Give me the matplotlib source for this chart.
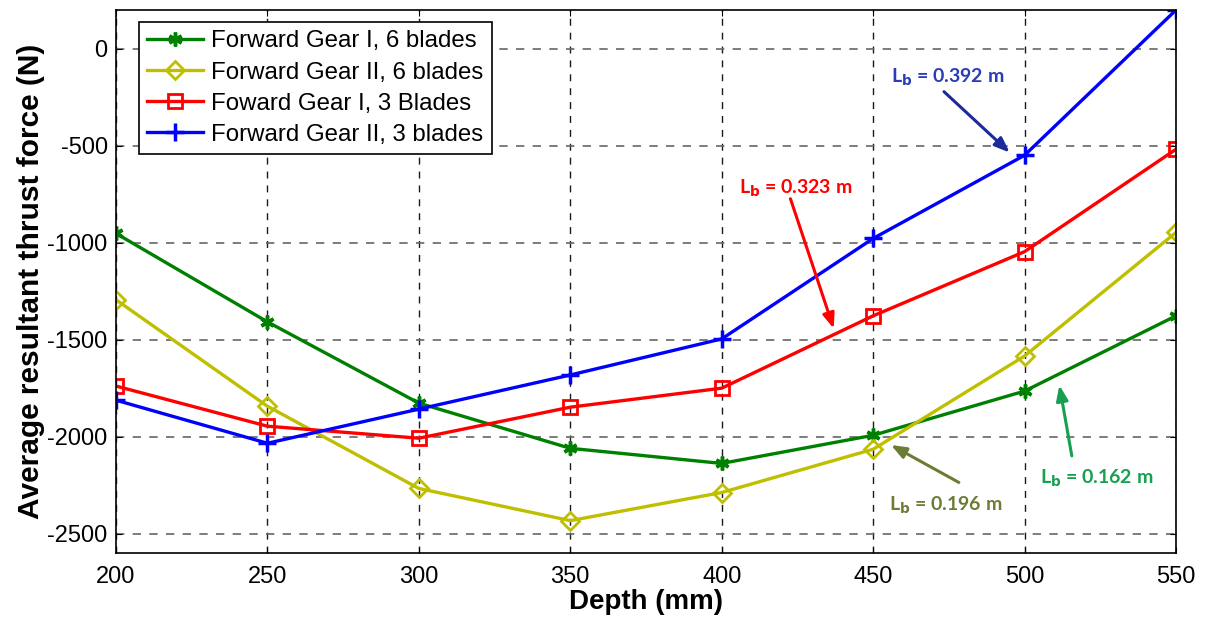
import numpy as np
import matplotlib
matplotlib.use("Agg")
import matplotlib.pyplot as plt

depth = [200, 250, 300, 350, 400, 450, 500, 550]

gear1_6 = [-952, -1408, -1827, -2060, -2138, -1993, -1765, -1377]
gear2_6 = [-1294, -1843, -2267, -2433, -2288, -2065, -1584, -947]
gear1_3 = [-1739, -1946, -2008, -1848, -1750, -1377, -1046, -518]
gear2_3 = [-1812, -2034, -1858, -1682, -1496, -978, -549, 200]

labels = ["Forward Gear I, 6 blades", "Forward Gear II, 6 blades",
          "Foward Gear I, 3 Blades", "Forward Gear II, 3 blades"]

# annotation text, text position, arrow tail, arrow head, text colour, arrow colour
notes = [
    ("0.392", (474.6, -146), (473.4, -221), (495.1, -535), "#2a3cb8", "#1c2a9c"),
    ("0.323", (424.3, -718), (422.7, -773), (437.0, -1443), "#ff0000", "#ff0000"),
    ("0.196", (473.9, -2356), (478.3, -2236), (455.9, -2043), "#6b7d35", "#6b7d35"),
    ("0.162", (523.7, -2217), (515.6, -2099), (511.5, -1735), "#17a050", "#17a050"),
]

plt.rcParams["font.family"] = ["Liberation Sans", "DejaVu Sans"]
plt.rcParams["axes.unicode_minus"] = False

fig = plt.figure(figsize=(12.08, 6.19), dpi=100)
ax = fig.add_axes([0.096, 0.1066, 0.8775, 0.8772])

lw = 2.4
ax.plot(depth, gear1_6, color="#008000", lw=lw, marker=(6, 2, 0), ms=10, mew=2.5,
        label=labels[0])
ax.plot(depth, gear2_6, color="#bfbf00", lw=lw, marker="D", ms=9, mfc="none", mew=2,
        label=labels[1])
ax.plot(depth, gear1_3, color="#ff0000", lw=lw, marker="s", ms=10, mfc="none", mew=2,
        label=labels[2])
ax.plot(depth, gear2_3, color="#0000ff", lw=lw, marker="+", ms=13, mew=2.5,
        label=labels[3])

for val, txt, tail, head, tc, ac in notes:
    ax.annotate("", xy=head, xytext=tail,
                arrowprops=dict(arrowstyle="-|>,head_width=0.35,head_length=0.9",
                                color=ac, lw=2.2, shrinkA=0, shrinkB=0))
    ax.text(txt[0], txt[1], r"L$_\mathbf{b}$ = " + val + " m", color=tc,
            fontsize=14, fontweight="bold", family=["Lato", "DejaVu Sans"],
            ha="center", va="center")

ax.set_xlim(200, 550)
ax.set_ylim(-2600, 200)
ax.set_xticks(depth)
ax.set_yticks([0, -500, -1000, -1500, -2000, -2500])
ax.tick_params(direction="in", length=4, labelsize=17, top=True, right=True, pad=6)
ax.tick_params(axis="x", pad=9)
ax.xaxis.grid(True, color="0.1", linestyle=(0, (5, 5)), lw=1)
ax.yaxis.grid(True, color="0.4", linestyle=(0, (5, 5)), lw=1.2)
for s in ax.spines.values():
    s.set_linewidth(1.2)

ax.set_xlabel("Depth (mm)", fontsize=20, fontweight="bold", labelpad=1)
ax.set_ylabel("Average resultant thrust force (N)", fontsize=21.5, fontweight="bold",
              labelpad=2)

leg = ax.legend(loc="upper left", fontsize=17.3, fancybox=False, edgecolor="black",
                framealpha=1, handlelength=2.3, borderpad=0.35, labelspacing=0.38,
                handletextpad=0.35, borderaxespad=0, bbox_to_anchor=(0.0217, 0.978))
leg.get_frame().set_linewidth(1.2)

fig.savefig("out.png", dpi=100)
